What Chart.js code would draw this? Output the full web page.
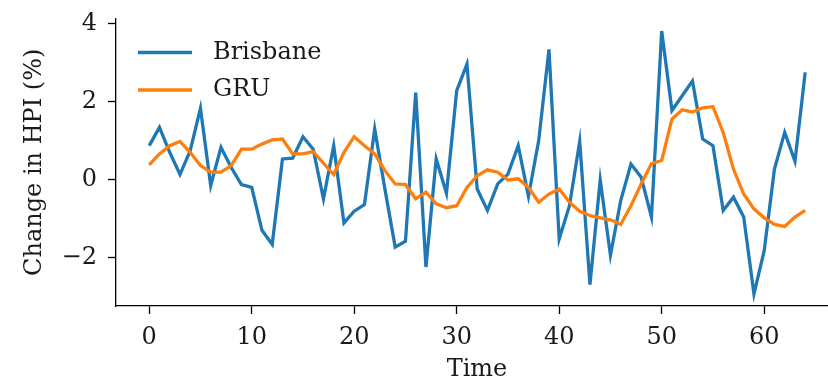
<!DOCTYPE html>
<html><head><meta charset="utf-8">
<script src="https://cdn.jsdelivr.net/npm/chart.js@4"></script>
<style>
html,body{margin:0;padding:0;background:#fff;overflow:hidden;width:828px;height:387px}
#wrap{position:absolute;left:0;top:0;width:850px;height:387px}
</style>
</head><body><div id="wrap"><canvas id="c" width="850" height="387"></canvas></div>
<script>
const timeSteps=[0,1,2,3,4,5,6,7,8,9,10,11,12,13,14,15,16,17,18,19,20,21,22,23,24,25,26,27,28,29,30,31,32,33,34,35,36,37,38,39,40,41,42,43,44,45,46,47,48,49,50,51,52,53,54,55,56,57,58,59,60,61,62,63,64];
const brisbane=[0.87,1.34,0.70,0.13,0.74,1.83,-0.15,0.83,0.31,-0.13,
-0.20,-1.30,-1.66,0.53,0.55,1.10,0.78,-0.49,0.87,-1.11,
-0.81,-0.64,1.30,-0.25,-1.73,-1.58,2.23,-2.24,0.53,-0.35,
2.28,2.96,-0.24,-0.79,-0.11,0.14,0.87,-0.43,1.00,3.34,
-1.52,-0.67,0.98,-2.69,-0.01,-1.94,-0.54,0.40,0.06,-0.96,
3.81,1.77,2.15,2.53,1.04,0.87,-0.79,-0.45,-0.96,-2.93,
-1.82,0.27,1.21,0.47,2.75];
const gru=[0.38,0.66,0.87,0.98,0.70,0.36,0.19,0.19,0.36,0.78,
0.78,0.91,1.02,1.04,0.66,0.66,0.72,0.42,0.13,0.70,
1.10,0.87,0.66,0.23,-0.11,-0.13,-0.49,-0.32,-0.62,-0.72,
-0.67,-0.20,0.10,0.25,0.19,-0.01,0.02,-0.20,-0.58,-0.37,
-0.24,-0.58,-0.81,-0.92,-0.98,-1.03,-1.15,-0.67,-0.11,0.41,
0.49,1.55,1.79,1.73,1.84,1.87,1.21,0.27,-0.37,-0.75,
-0.98,-1.15,-1.20,-0.96,-0.79];
const xTicks=[0,10,20,30,40,50,60];
const yTicks=[-2,0,2,4];
const seriesNames=['Brisbane','GRU'];
const xTitle='Time';
const yTitle='Change in HPI (%)';

const FONT='"DejaVu Serif", serif';
const TXT='#1a1a1a';
const colors=['#1f77b4','#ff7f0e'];

function pts(vals){return timeSteps.map((t,i)=>({x:t,y:vals[i]}));}

const legendPlugin={
  id:'inLegend',
  afterDraw(chart){
    const ctx=chart.ctx, a=chart.chartArea;
    ctx.save();
    ctx.font='24px '+FONT;
    ctx.textBaseline='middle';
    ctx.textAlign='left';
    chart.data.datasets.forEach((ds,i)=>{
      const y=a.top+34+i*37.5;
      ctx.strokeStyle=ds.borderColor;
      ctx.lineWidth=3.3;
      ctx.beginPath();ctx.moveTo(a.left+22,y);ctx.lineTo(a.left+76,y);ctx.stroke();
      ctx.fillStyle=TXT;
      ctx.fillText(ds.label,a.left+97,y);
    });
    ctx.restore();
  }
};

new Chart(document.getElementById('c'),{
  type:'line',
  data:{datasets:[
    {label:seriesNames[0],data:pts(brisbane),borderColor:colors[0],backgroundColor:colors[0],borderWidth:3.3,pointRadius:0,tension:0,order:1},
    {label:seriesNames[1],data:pts(gru),borderColor:colors[1],backgroundColor:colors[1],borderWidth:3.3,pointRadius:0,tension:0,order:0}
  ]},
  options:{
    responsive:false,animation:false,
    layout:{padding:{top:18.5,right:12,left:0,bottom:0}},
    plugins:{legend:{display:false},tooltip:{enabled:false}},
    scales:{
      x:{type:'linear',min:-3.24,max:67.2,
        afterBuildTicks(s){s.ticks=xTicks.map(v=>({value:v}));},
        afterFit(s){s.height=81;s.paddingLeft=0;s.paddingRight=0;},
        grid:{drawOnChartArea:false,drawTicks:true,tickLength:8,tickWidth:1.3,tickColor:'#000'},
        border:{display:true,color:'#000',width:1.3},
        ticks:{color:TXT,font:{family:FONT,size:24,lineHeight:1.2},padding:9,maxRotation:0,autoSkip:false},
        title:{display:true,text:xTitle,color:TXT,font:{family:FONT,size:24,lineHeight:1.2},padding:{top:0,bottom:3}}
      },
      y:{type:'linear',min:-3.24,max:4.13,
        afterBuildTicks(s){s.ticks=yTicks.map(v=>({value:v}));},
        afterFit(s){s.width=116;s.paddingTop=0;s.paddingBottom=0;},
        grid:{drawOnChartArea:false,drawTicks:true,tickLength:8,tickWidth:1.3,tickColor:'#000'},
        border:{display:true,color:'#000',width:1.3},
        ticks:{color:TXT,font:{family:FONT,size:24,lineHeight:1.2},padding:11,
          callback:v=>String(v).replace('-','\u2212')},
        title:{display:true,text:yTitle,color:TXT,font:{family:FONT,size:24,lineHeight:1.2},padding:{top:20,bottom:0}}
      }
    }
  },
  plugins:[legendPlugin]
});
</script>
</body></html>
